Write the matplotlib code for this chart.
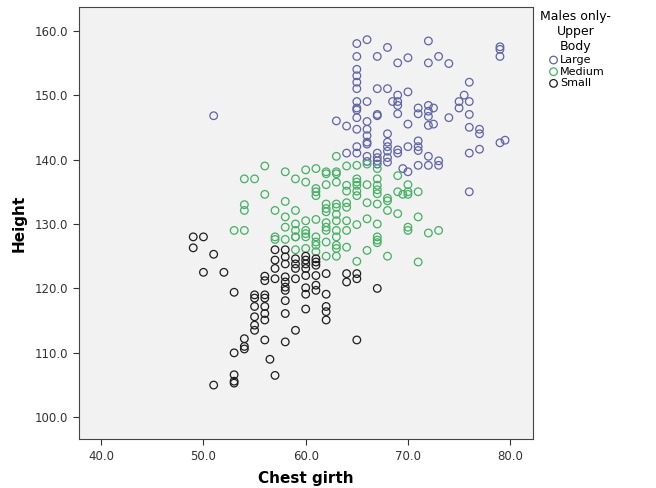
import matplotlib.pyplot as plt

# Large upper body (blue)
large_x = [65, 66, 68, 72, 79, 79, 79, 65, 67, 69, 70, 72, 73, 74,
           65, 65, 65, 65, 76, 67, 68, 69, 70, 75.5, 75, 75, 76,
           65, 65, 65, 66, 68.5, 69, 69, 71, 71, 72, 72, 72, 72.5,
           67, 67, 69, 74, 76, 63, 64, 65, 66, 65, 66, 66, 66, 66,
           68, 70, 72, 72.5, 76, 77, 77, 79, 79.5, 77, 76,
           65, 68, 68, 68, 69, 69, 70, 71, 71, 71, 72, 64, 65,
           67, 67, 67, 67, 68, 68, 66, 66, 69.5, 70, 71, 72, 73, 73, 76, 51]
large_y = [158.0, 158.6, 157.4, 158.4, 157.5, 157.1, 156.0, 156.0, 156.0, 155.0, 155.8, 155.0, 156.0, 154.9,
           154.0, 153.0, 152.0, 151.0, 152.0, 151.0, 151.0, 150.0, 150.5, 150.0, 149.0, 148.0, 149.0,
           149.0, 148.0, 147.7, 149.0, 149.0, 148.4, 149.0, 148.0, 147.1, 148.4, 147.5, 146.7, 148.0,
           147.0, 146.8, 147.1, 146.5, 147.0, 146.0, 145.2, 146.5, 145.9, 144.7, 144.7, 143.7, 142.7, 142.4,
           144.0, 145.5, 145.3, 145.5, 145.0, 144.7, 144.0, 142.6, 143.0, 141.6, 141.0,
           142.0, 142.7, 142.0, 141.3, 141.5, 141.0, 142.0, 142.9, 142.0, 141.4, 140.5, 141.0, 141.0,
           141.0, 140.3, 139.8, 139.3, 140.3, 139.6, 140.5, 139.7, 138.6, 138.1, 139.1, 139.1, 139.8, 139.1, 135.0, 146.8]

# Medium upper body (green)
medium_x = [56, 54, 55, 58, 59, 60, 60, 61, 62, 62, 63, 63, 63, 64, 65, 65, 65, 65,
            66, 66, 67, 67, 67, 69, 70, 62, 63, 64, 64, 61, 61, 61, 56, 58,
            65, 65, 67, 67, 68, 68, 69, 70, 71, 69.5, 70, 54, 54, 57, 59,
            62, 62, 62, 63, 63, 64, 64, 66, 67, 68, 69, 71, 58, 63, 63, 60, 61,
            62, 62, 62, 59, 59, 64, 65, 66, 67, 53, 54, 63, 64, 70, 70, 72, 73,
            58, 59, 60, 60, 57, 57, 58, 59, 60, 61, 61, 61, 62, 63, 67, 67, 67,
            63, 63, 64, 66, 59, 60, 61, 62, 63, 68, 65, 71]
medium_y = [139.0, 137.0, 137.0, 138.1, 137.0, 138.4, 136.5, 138.6, 138.1, 137.8, 140.5, 138.1, 137.8, 139.0, 139.1, 137.0, 136.5, 136.0,
            139.3, 136.1, 138.6, 137.0, 136.0, 137.5, 136.1, 136.1, 136.5, 136.0, 135.1, 135.5, 135.0, 134.4, 134.6, 133.5,
            135.1, 134.4, 135.3, 134.7, 133.6, 134.0, 135.0, 135.0, 135.0, 134.6, 134.6, 133.0, 132.1, 132.1, 132.1,
            133.1, 132.4, 131.9, 133.1, 132.6, 133.3, 132.6, 133.3, 133.1, 132.1, 131.6, 131.1, 131.1, 131.5, 130.5, 130.5, 130.7,
            130.2, 129.5, 129.0, 130.0, 129.0, 130.5, 129.9, 130.8, 130.0, 129.0, 129.0, 129.0, 129.0, 129.5, 129.0, 128.6, 129.0,
            129.5, 128.0, 129.0, 128.5, 128.0, 127.6, 127.6, 128.0, 128.0, 128.0, 127.2, 126.7, 127.2, 128.0, 128.0, 127.5, 127.1,
            126.7, 126.2, 126.4, 125.9, 126.0, 126.2, 125.7, 125.0, 125.0, 125.0, 124.2, 124.1]

# Small upper body (black)
small_x = [49, 50, 49, 51, 50, 52, 53, 55, 56, 55, 56, 54, 54, 54, 53, 53, 53, 53, 51,
           57, 56.5, 56, 58, 59, 55, 55, 55, 55, 56, 56, 56, 58, 58, 60, 62, 62, 62,
           62, 60, 61, 61, 60, 59, 58, 58, 58, 58, 56, 56, 57, 60, 61, 62, 64, 64,
           65, 65, 67, 65, 57, 58, 58, 57, 58, 59, 59, 59, 60, 60, 60, 60, 61, 61, 61, 57]
small_y = [128.0, 128.0, 126.3, 125.3, 122.5, 122.5, 119.4, 119.0, 119.0, 118.5, 118.5, 112.2, 111.0, 110.6, 110.0, 106.6, 105.6, 105.3, 105.0,
           106.5, 109.0, 112.0, 111.7, 113.5, 117.2, 115.6, 114.3, 113.5, 117.2, 116.1, 115.1, 118.1, 116.1, 116.8, 117.2, 116.4, 115.1,
           119.1, 119.1, 119.7, 120.5, 120.1, 121.5, 121.8, 121.0, 120.2, 119.7, 121.9, 121.2, 121.5, 122.0, 122.0, 122.3, 122.3, 121.0,
           122.3, 121.5, 120.0, 112.0, 126.0, 126.0, 124.9, 124.4, 123.8, 124.6, 123.8, 123.1, 125.0, 124.4, 123.8, 123.1, 124.6, 124.1, 123.6, 123.1]

groups = ['Large', 'Medium', 'Small']
colors = ['#6064a6', '#45b064', '#1e1e1e']
xticks = [40, 50, 60, 70, 80]
yticks = [100, 110, 120, 130, 140, 150, 160]

fig = plt.figure(figsize=(6.56, 4.88), dpi=100)
ax = fig.add_axes([0.120, 0.100, 0.692, 0.886])
ax.set_facecolor('#f2f2f2')

for name, xs, ys, c in zip(groups, [large_x, medium_x, small_x],
                           [large_y, medium_y, small_y], colors):
    ax.scatter(xs, ys, s=30, facecolors='none', edgecolors=c,
               linewidths=0.9, label=name)

ax.set_xlim(37.8, 82.2)
ax.set_ylim(96.6, 163.7)
ax.set_xticks(xticks)
ax.set_yticks(yticks)
ax.set_xticklabels([f'{v:.1f}' for v in xticks], fontsize=8.5, color='#333333')
ax.set_yticklabels([f'{v:.1f}' for v in yticks], fontsize=8.5, color='#333333')
ax.tick_params(direction='out', length=4, color='#333333')
for sp in ax.spines.values():
    sp.set_color('#444444')
ax.set_xlabel('Chest girth', fontsize=11, fontweight='bold', labelpad=6)
ax.set_ylabel('Height', fontsize=11, fontweight='bold', labelpad=6)

leg = ax.legend(title='Males only-\nUpper\nBody', loc='upper left',
                bbox_to_anchor=(1.0, 1.01), frameon=False, fontsize=8,
                title_fontsize=9, handletextpad=0.0, labelspacing=0.15,
                borderaxespad=0.3, handlelength=1.2)
leg.get_title().set_multialignment('center')

fig.savefig('out.png', dpi=100)
